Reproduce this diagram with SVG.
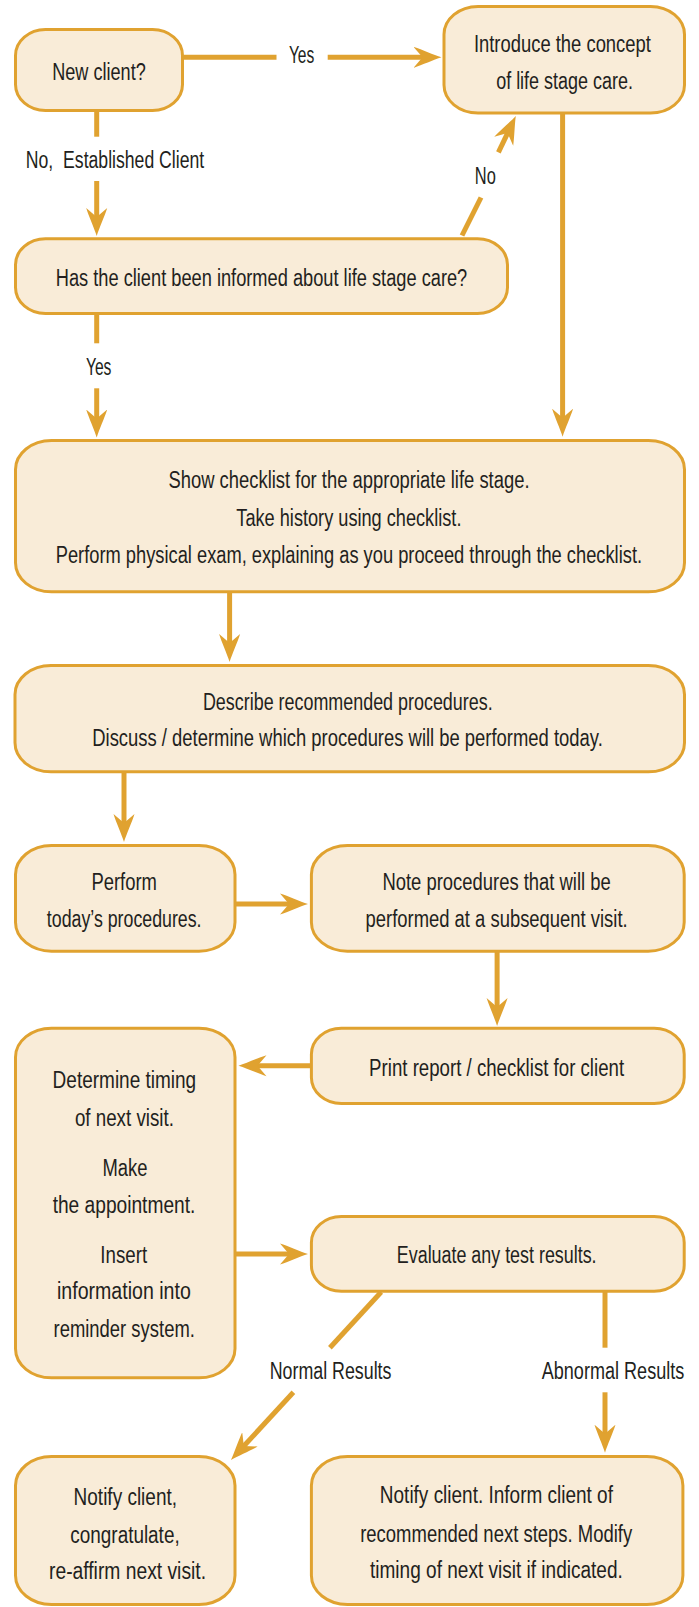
<svg xmlns="http://www.w3.org/2000/svg" width="699" height="1607" viewBox="0 0 699 1607">
<style>
.box{fill:#f9ecd8;stroke:#e0a230;stroke-width:3}
.ln{stroke:#e0a230;stroke-width:5;fill:none}
text{font-family:"Liberation Sans Narrow","Liberation Sans",Arial,sans-serif;font-size:23px;fill:#231f20;text-anchor:middle}
</style>
<defs>
<marker id="ah" markerWidth="30" markerHeight="22" viewBox="0 0 30 22" refX="12" refY="11" orient="auto" markerUnits="userSpaceOnUse">
<path d="M28,11 C20,8.5 8,3 0,0.5 L9,11 L0,21.5 C8,19 20,13.5 28,11 Z" fill="#e0a230"/>
</marker>
</defs>
<rect width="699" height="1607" fill="#ffffff"/>
<g id="connectors">
<line class="ln" x1="184" y1="57.3" x2="276.5" y2="57.3"/>
<line class="ln" x1="327.7" y1="57.3" x2="425.5" y2="57.3" marker-end="url(#ah)"/>
<line class="ln" x1="96.7" y1="111" x2="96.7" y2="136.7"/>
<line class="ln" x1="96.7" y1="181" x2="96.7" y2="220" marker-end="url(#ah)"/>
<line class="ln" x1="462" y1="235.5" x2="481" y2="197.5"/>
<line class="ln" x1="498.4" y1="152.3" x2="508.9" y2="130.4" marker-end="url(#ah)"/>
<line class="ln" x1="562.6" y1="113" x2="562.6" y2="420.7" marker-end="url(#ah)"/>
<line class="ln" x1="96.7" y1="314" x2="96.7" y2="343.3"/>
<line class="ln" x1="96.7" y1="388.3" x2="96.7" y2="421.5" marker-end="url(#ah)"/>
<line class="ln" x1="229.6" y1="592" x2="229.6" y2="646" marker-end="url(#ah)"/>
<line class="ln" x1="124" y1="772" x2="124" y2="826" marker-end="url(#ah)"/>
<line class="ln" x1="235" y1="904" x2="292" y2="904" marker-end="url(#ah)"/>
<line class="ln" x1="497.1" y1="951.5" x2="497.1" y2="1010" marker-end="url(#ah)"/>
<line class="ln" x1="311" y1="1065.7" x2="254.5" y2="1065.7" marker-end="url(#ah)"/>
<line class="ln" x1="235" y1="1254" x2="292" y2="1254" marker-end="url(#ah)"/>
<line class="ln" x1="381.2" y1="1292" x2="329.9" y2="1347.7"/>
<line class="ln" x1="293.4" y1="1392.3" x2="241.8" y2="1448.2" marker-end="url(#ah)"/>
<line class="ln" x1="605" y1="1292" x2="605" y2="1347.7"/>
<line class="ln" x1="605" y1="1392.3" x2="605" y2="1436.7" marker-end="url(#ah)"/>
<text x="301.6" y="62.7" textLength="25.4" lengthAdjust="spacingAndGlyphs">Yes</text>
<text x="115" y="168.3" textLength="178.3" lengthAdjust="spacingAndGlyphs" xml:space="preserve">No,  Established Client</text>
<text x="485.3" y="183.5" textLength="21" lengthAdjust="spacingAndGlyphs">No</text>
<text x="98.7" y="375" textLength="25.5" lengthAdjust="spacingAndGlyphs">Yes</text>
<text x="330.6" y="1379.3" textLength="121.7" lengthAdjust="spacingAndGlyphs">Normal Results</text>
<text x="613" y="1379.3" textLength="142.6" lengthAdjust="spacingAndGlyphs">Abnormal Results</text>
</g>
<g id="n-newclient">
<rect class="box" x="15.5" y="29.5" width="167" height="81" rx="30" ry="26"/>
<text x="99" y="80" textLength="93.6" lengthAdjust="spacingAndGlyphs">New client?</text>
</g>
<g id="n-introduce">
<rect class="box" x="444" y="6.5" width="240.5" height="106.5" rx="34" ry="28"/>
<text x="562.4" y="51.7" textLength="177" lengthAdjust="spacingAndGlyphs">Introduce the concept</text>
<text x="564.6" y="89.3" textLength="136.9" lengthAdjust="spacingAndGlyphs">of life stage care.</text>
</g>
<g id="n-informed">
<rect class="box" x="15.5" y="238.8" width="492" height="74.7" rx="30" ry="26"/>
<text x="261.5" y="286" textLength="411.5" lengthAdjust="spacingAndGlyphs">Has the client been informed about life stage care?</text>
</g>
<g id="n-checklist">
<rect class="box" x="15.5" y="440.5" width="669" height="151.3" rx="36" ry="29"/>
<text x="349" y="488.3" textLength="361.1" lengthAdjust="spacingAndGlyphs">Show checklist for the appropriate life stage.</text>
<text x="348.9" y="525.7" textLength="225.1" lengthAdjust="spacingAndGlyphs">Take history using checklist.</text>
<text x="348.9" y="563.3" textLength="586.3" lengthAdjust="spacingAndGlyphs">Perform physical exam, explaining as you proceed through the checklist.</text>
</g>
<g id="n-describe">
<rect class="box" x="15" y="665.5" width="669.5" height="106.3" rx="36" ry="29"/>
<text x="347.8" y="710" textLength="289.7" lengthAdjust="spacingAndGlyphs">Describe recommended procedures.</text>
<text x="347.5" y="746" textLength="510.5" lengthAdjust="spacingAndGlyphs">Discuss / determine which procedures will be performed today.</text>
</g>
<g id="n-perform">
<rect class="box" x="15.5" y="845.5" width="219.5" height="105.7" rx="36" ry="29"/>
<text x="124.2" y="890" textLength="65.6" lengthAdjust="spacingAndGlyphs">Perform</text>
<text x="124.2" y="926.7" textLength="154.7" lengthAdjust="spacingAndGlyphs">today’s procedures.</text>
</g>
<g id="n-note">
<rect class="box" x="311.4" y="845.5" width="372.8" height="105.7" rx="36" ry="29"/>
<text x="496.6" y="890" textLength="228.3" lengthAdjust="spacingAndGlyphs">Note procedures that will be</text>
<text x="496.6" y="926.7" textLength="262.1" lengthAdjust="spacingAndGlyphs">performed at a subsequent visit.</text>
</g>
<g id="n-print">
<rect class="box" x="311.4" y="1028.2" width="372.8" height="75.3" rx="30" ry="26"/>
<text x="496.6" y="1076" textLength="255" lengthAdjust="spacingAndGlyphs">Print report / checklist for client</text>
</g>
<g id="n-timing">
<rect class="box" x="15.5" y="1028.2" width="219.5" height="349.6" rx="36" ry="29"/>
<text x="124.4" y="1088.3" textLength="143.6" lengthAdjust="spacingAndGlyphs">Determine timing</text>
<text x="124.4" y="1126" textLength="99" lengthAdjust="spacingAndGlyphs">of next visit.</text>
<text x="125" y="1175.5" textLength="45" lengthAdjust="spacingAndGlyphs">Make</text>
<text x="124" y="1213.3" textLength="142.7" lengthAdjust="spacingAndGlyphs">the appointment.</text>
<text x="123.7" y="1262.7" textLength="46.8" lengthAdjust="spacingAndGlyphs">Insert</text>
<text x="123.9" y="1299.3" textLength="133.8" lengthAdjust="spacingAndGlyphs">information into</text>
<text x="124.2" y="1336.7" textLength="141.3" lengthAdjust="spacingAndGlyphs">reminder system.</text>
</g>
<g id="n-evaluate">
<rect class="box" x="311.4" y="1216.5" width="372.8" height="74.7" rx="30" ry="26"/>
<text x="496.7" y="1263.3" textLength="199.7" lengthAdjust="spacingAndGlyphs">Evaluate any test results.</text>
</g>
<g id="n-normal">
<rect class="box" x="15.5" y="1456.5" width="219.5" height="148" rx="36" ry="29"/>
<text x="125.3" y="1505" textLength="103.4" lengthAdjust="spacingAndGlyphs">Notify client,</text>
<text x="125" y="1543.3" textLength="109.3" lengthAdjust="spacingAndGlyphs">congratulate,</text>
<text x="127.5" y="1579.3" textLength="157" lengthAdjust="spacingAndGlyphs">re-affirm next visit.</text>
</g>
<g id="n-abnormal">
<rect class="box" x="311.4" y="1456.5" width="371.5" height="148" rx="36" ry="29"/>
<text x="496.4" y="1503.3" textLength="233.1" lengthAdjust="spacingAndGlyphs">Notify client. Inform client of</text>
<text x="496.2" y="1541.7" textLength="272" lengthAdjust="spacingAndGlyphs">recommended next steps. Modify</text>
<text x="496.4" y="1578.3" textLength="252.8" lengthAdjust="spacingAndGlyphs">timing of next visit if indicated.</text>
</g>
</svg>
